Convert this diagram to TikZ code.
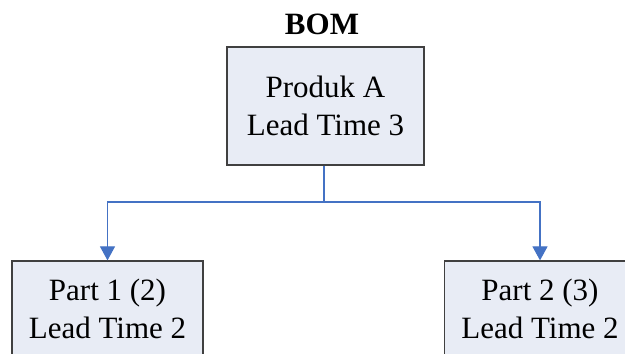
\documentclass[tikz,border=0pt]{standalone}
\usepackage{fontspec}
\setmainfont{Liberation Serif}
\usepackage{xcolor}
\usetikzlibrary{arrows.meta}

\definecolor{boxfill}{RGB}{232,236,245}
\definecolor{boxline}{RGB}{64,64,64}
\definecolor{linkblue}{RGB}{68,114,196}

\begin{document}
\begin{tikzpicture}[x=0.5pt, y=-0.5pt,
        bomitem/.style={draw=boxline, line width=0.6pt, fill=boxfill, inner sep=0pt, align=center,
            font=\fontsize{15.5}{19}\selectfont},
        link/.style={draw=linkblue, line width=0.55pt},
        linkarrow/.style={link, -{Triangle[length=7pt, width=7.5pt]}}]
                    \useasboundingbox (0, 0) rectangle (625, 353);
                    \clip (0, 0) rectangle (625, 353);

                    \node[anchor=base, font=\fontsize{15.5}{19}\selectfont\bfseries] (title) at (322, 35) {BOM};
                    \node[bomitem, minimum width=98.5pt, minimum height=59pt] (prod) at (325.5, 106) {Produk A\\Lead Time 3};
                    \node[bomitem, minimum width=95.5pt, minimum height=47.5pt] (part1) at (107.5, 308.5) {Part 1 (2)\\Lead Time 2};
                    \node[bomitem, minimum width=95.5pt, minimum height=47.5pt] (part2) at (540, 308.5) {Part 2 (3)\\Lead Time 2};
                    \coordinate (split) at (324, 202);

                    \draw[link] (prod.south -| split) -- (split);
                    \draw[linkarrow] (split) -| (part1.north);
                    \draw[linkarrow] (split) -| (part2.north);
                \end{tikzpicture}
\end{document}
